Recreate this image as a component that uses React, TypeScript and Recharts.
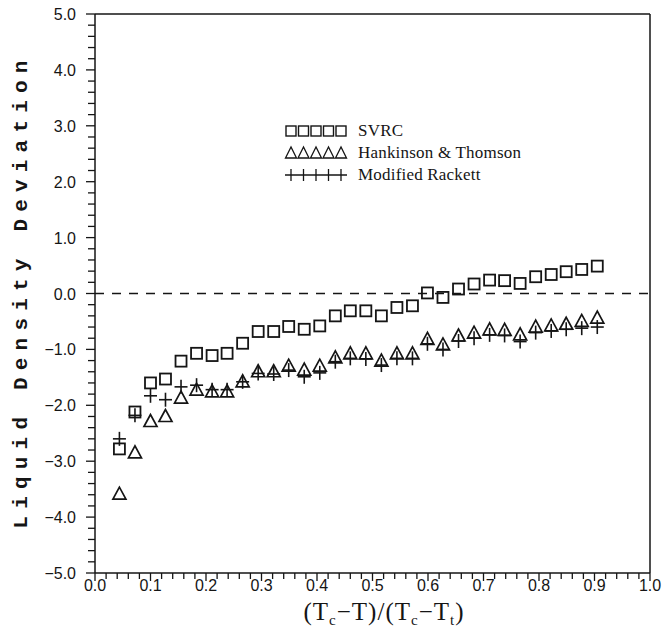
import { ReferenceLine, Scatter, ScatterChart, XAxis, YAxis } from "recharts";

const INK = "#151515";

// reduced temperature positions of the measured points
const xs = [
  0.044, 0.072, 0.1, 0.127, 0.155, 0.183, 0.211, 0.238, 0.266, 0.294, 0.322, 0.349, 0.377, 0.405, 0.433, 0.46,
  0.488, 0.516, 0.544, 0.572, 0.599, 0.627, 0.655, 0.683, 0.711, 0.738, 0.766, 0.794, 0.822, 0.849, 0.877, 0.905,
];

const svrc = [
  -2.78, -2.12, -1.6, -1.53, -1.21, -1.07, -1.11, -1.07, -0.89, -0.68, -0.68, -0.59, -0.64, -0.58, -0.4, -0.31,
  -0.31, -0.4, -0.25, -0.22, 0.01, -0.07, 0.08, 0.17, 0.24, 0.23, 0.18, 0.3, 0.34, 0.39, 0.43, 0.49,
];

const hankinson = [
  -3.59, -2.85, -2.29, -2.2, -1.87, -1.73, -1.76, -1.76, -1.58, -1.4, -1.4, -1.3, -1.37, -1.3, -1.15, -1.08,
  -1.08, -1.21, -1.08, -1.08, -0.82, -0.92, -0.76, -0.71, -0.65, -0.66, -0.74, -0.6, -0.58, -0.55, -0.5, -0.44,
];

const rackett = [
  -2.6, -2.18, -1.83, -1.9, -1.67, -1.64, -1.72, -1.72, -1.58, -1.43, -1.44, -1.37, -1.49, -1.42, -1.22, -1.16,
  -1.17, -1.28, -1.16, -1.16, -0.9, -1.0, -0.85, -0.8, -0.74, -0.75, -0.86, -0.7, -0.67, -0.64, -0.62, -0.6,
];

const xMajor = [0, 0.1, 0.2, 0.3, 0.4, 0.5, 0.6, 0.7, 0.8, 0.9, 1.0];
const yMajor = [-5, -4, -3, -2, -1, 0, 1, 2, 3, 4, 5];

// minor ticks: 5 per major step on both axes
const xTicks: number[] = [];
for (let i = 0; i <= 50; i++) xTicks.push(+(i * 0.02).toFixed(2));
const yTicks: number[] = [];
for (let i = 0; i <= 50; i++) yTicks.push(+(-5 + i * 0.2).toFixed(1));

const toPoints = (ys: number[]) => xs.map((x, i) => ({ x, y: ys[i] }));

const isMajor = (v: number, majors: number[]) => majors.some((m) => Math.abs(m - v) < 1e-6);
const fmt = (v: number) => (v < 0 ? "\u2212" + Math.abs(v).toFixed(1) : v.toFixed(1));

const tickFont = { fontFamily: "'Liberation Sans', Arial, sans-serif", fontSize: 16, fill: INK };

function XTick(props: any) {
  const { x, y, payload } = props;
  const major = isMajor(payload.value, xMajor);
  return (
    <g>
      <line x1={x} x2={x} y1={y} y2={y + (major ? 8 : 6)} stroke={INK} strokeWidth={1.3} />
      {major && (
        <text x={x} y={y + 18} textAnchor="middle" {...tickFont}>
          {fmt(payload.value)}
        </text>
      )}
    </g>
  );
}

function YTick(props: any) {
  const { x, y, payload } = props;
  const major = isMajor(payload.value, yMajor);
  return (
    <g>
      <line x1={x} x2={x - (major ? 9 : 7)} y1={y} y2={y} stroke={INK} strokeWidth={1.3} />
      {major && (
        <text x={x - 19} y={y + 6} textAnchor="end" {...tickFont}>
          {fmt(payload.value)}
        </text>
      )}
    </g>
  );
}

function Square(p: any) {
  return <rect x={p.cx - 5.5} y={p.cy - 5.5} width={11} height={11} fill="none" stroke={INK} strokeWidth={1.8} />;
}

function Triangle(p: any) {
  const { cx, cy } = p;
  return (
    <polygon
      points={`${cx},${cy - 7} ${cx - 6.5},${cy + 5} ${cx + 6.5},${cy + 5}`}
      fill="none"
      stroke={INK}
      strokeWidth={1.7}
    />
  );
}

function Plus(p: any) {
  const { cx, cy } = p;
  return (
    <g stroke={INK} strokeWidth={1.6}>
      <line x1={cx - 6.5} x2={cx + 6.5} y1={cy} y2={cy} />
      <line x1={cx} x2={cx} y1={cy - 7} y2={cy + 7} />
    </g>
  );
}

function LegendRow({ kind, label }: { kind: string; label: string }) {
  return (
    <div style={{ display: "flex", alignItems: "center", height: 22 }}>
      <svg width={66} height={16}>
        {kind === "plus" && <line x1={1} x2={63} y1={8} y2={8} stroke={INK} strokeWidth={1.3} />}
        {[0, 1, 2, 3, 4].map((i) => {
          const cx = 7 + i * 12.5;
          if (kind === "square")
            return <rect key={i} x={cx - 5} y={3} width={10} height={10} fill="none" stroke={INK} strokeWidth={1.4} />;
          if (kind === "triangle")
            return (
              <polygon
                key={i}
                points={`${cx},2 ${cx - 5.5},13 ${cx + 5.5},13`}
                fill="none"
                stroke={INK}
                strokeWidth={1.3}
              />
            );
          return <line key={i} x1={cx} x2={cx} y1={2} y2={14} stroke={INK} strokeWidth={1.3} />;
        })}
      </svg>
      <span style={{ marginLeft: 8, fontFamily: "'Liberation Serif', serif", fontSize: 17, letterSpacing: 0.2, color: INK }}>
        {label}
      </span>
    </div>
  );
}

const subStyle = { fontSize: 15, position: "relative" as const, top: 5 };

export default function App() {
  return (
    <div style={{ position: "absolute", left: 0, top: 0, width: 662, height: 628, background: "#fff" }}>
      <ScatterChart width={662} height={628} margin={{ top: 14, right: 12, left: 0, bottom: 0 }}>
        <XAxis
          type="number"
          dataKey="x"
          domain={[0, 1]}
          ticks={xTicks}
          interval={0}
          tick={<XTick />}
          tickLine={false}
          tickSize={0}
          tickMargin={0}
          height={55}
          axisLine={{ stroke: INK, strokeWidth: 1.5 }}
        />
        <YAxis
          type="number"
          dataKey="y"
          domain={[-5, 5]}
          ticks={yTicks}
          interval={0}
          tick={<YTick />}
          tickLine={false}
          tickSize={0}
          tickMargin={0}
          width={95}
          axisLine={{ stroke: INK, strokeWidth: 1.5 }}
        />
        <ReferenceLine y={5} stroke={INK} strokeWidth={1.5} />
        <ReferenceLine x={1} stroke={INK} strokeWidth={1.5} />
        <ReferenceLine y={0} stroke={INK} strokeWidth={1.3} strokeDasharray="9 8" />
        <Scatter data={toPoints(svrc)} shape={Square} isAnimationActive={false} />
        <Scatter data={toPoints(hankinson)} shape={Triangle} isAnimationActive={false} />
        <Scatter data={toPoints(rackett)} shape={Plus} isAnimationActive={false} />
      </ScatterChart>

      <div style={{ position: "absolute", left: 284, top: 120 }}>
        <LegendRow kind="square" label="SVRC" />
        <LegendRow kind="triangle" label="Hankinson & Thomson" />
        <LegendRow kind="plus" label="Modified Rackett" />
      </div>

      <div
        style={{
          position: "absolute",
          left: 21,
          top: 291,
          transform: "translate(-50%, -50%) rotate(-90deg)",
          whiteSpace: "nowrap",
          fontFamily: "'Liberation Mono', monospace",
          fontWeight: "bold",
          fontSize: 21,
          letterSpacing: 7.2,
          color: INK,
        }}
      >
        Liquid Density Deviation
      </div>

      <div
        style={{
          position: "absolute",
          left: 384,
          top: 611,
          transform: "translate(-50%, -50%)",
          whiteSpace: "nowrap",
          lineHeight: 1,
          fontFamily: "'Liberation Serif', serif",
          fontSize: 25,
          letterSpacing: 1,
          color: INK,
        }}
      >
        (T<span style={subStyle}>c</span>{"\u2212"}T)/(T<span style={subStyle}>c</span>{"\u2212"}T
        <span style={subStyle}>t</span>)
      </div>
    </div>
  );
}
